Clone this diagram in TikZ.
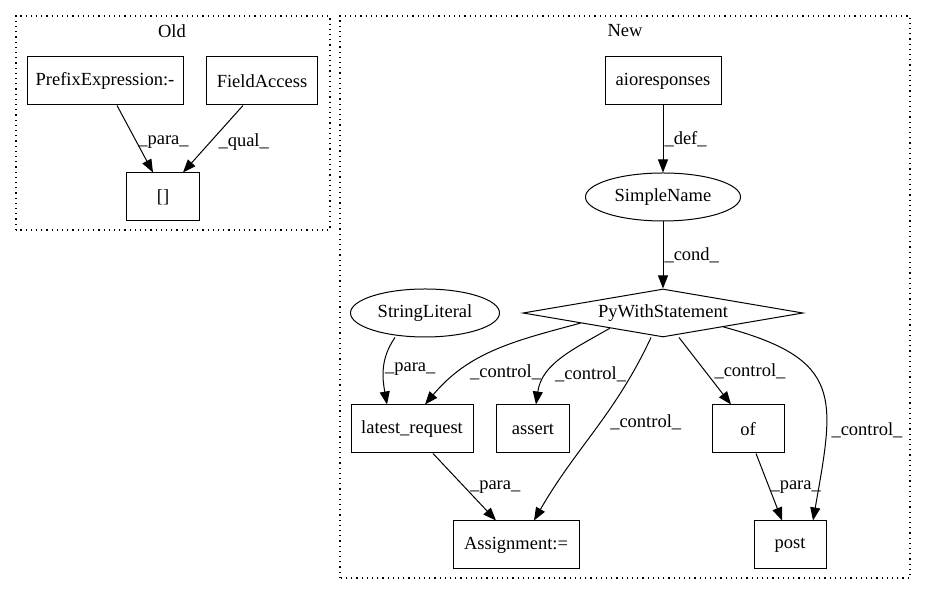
\documentclass[tikz,border=0pt]{standalone}
\usepackage{fontspec}
\setmainfont{Liberation Serif}
\usetikzlibrary{shapes.geometric, arrows.meta}
\newcommand{\graphfont}{\fontsize{18.5}{21}\selectfont}
\tikzstyle{block} = [draw, rectangle, minimum height=48pt, inner sep=0pt]
\tikzstyle{ellip} = [draw, ellipse, minimum height=48pt, inner sep=0pt]
\tikzstyle{decision} = [draw, diamond, aspect=5.8, minimum width=280pt, minimum height=48pt, inner sep=0pt]
\tikzstyle{edgelabel} = [inner sep=1pt, font=\graphfont]
\tikzstyle{cluster} = [draw, line width=1.1pt, dash pattern=on 1.2pt off 4pt]

\begin{document}
\begin{tikzpicture}[x=1pt, y=1pt, line width=1pt, >={Triangle[length=13pt, width=10pt]}, every node/.style={font=\graphfont}]
	\useasboundingbox (0,0) rectangle (927,596);
	% the two clusters
	\draw[cluster] (16,366) rectangle (330,580);
	\draw[cluster] (340,18) rectangle (910,580);
	\node (oldlabel) at (172,565) {Old};
	\node (newlabel) at (625,565) {New};

	% Old side
	\node [block, minimum width=156pt] (prefix) at (105,515) {PrefixExpression:-};
	\node [block, minimum width=111pt] (field) at (262,515) {FieldAccess};
	\node [block, minimum width=73pt] (brackets) at (163,399) {[]};
	\draw [->] ([xshift=12pt]prefix.south) -- node[edgelabel, right, pos=0.55] {\_para\_} ([xshift=-10pt]brackets.north);
	\draw [->] ([xshift=-19pt]field.south) -- node[edgelabel, right, pos=0.55, xshift=7pt] {\_qual\_} ([xshift=20pt]brackets.north);

	% New side
	\node [block, minimum width=116pt] (aio) at (663,515) {aioresponses};
	\node [ellip, minimum width=155pt] (simplename) at (663,399) {SimpleName};
	\node [decision] (with) at (663,283) {PyWithStatement};
	\node [ellip, minimum width=149pt] (string) at (425,283) {StringLiteral};
	\node [block, minimum width=122pt] (latest) at (412,167) {latest\_request};
	\node [block, minimum width=73pt] (assert) at (533,167) {assert};
	\node [block, minimum width=72pt] (of) at (748,167) {of};
	\node [block, minimum width=126pt] (assign) at (516,51) {Assignment:=};
	\node [block, minimum width=72pt] (post) at (790,51) {post};

	% edges
	\draw [->] (aio) -- node[edgelabel, right] {\_def\_} (simplename);
	\draw [->] (simplename) -- node[edgelabel, right] {\_cond\_} (with);
	\draw [->] ([xshift=-30pt]string.south) to[out=-125, in=100] node[edgelabel, right, pos=0.5] {\_para\_} ([xshift=-25pt]latest.north);
	\draw [->] (with.187) to[out=195, in=50] node[edgelabel, right, pos=0.75, xshift=10pt] {\_control\_} ([xshift=13pt]latest.north);
	\draw [->] (with.196) to[out=210, in=82] node[edgelabel, right, pos=0.7, xshift=6pt] {\_control\_} ([xshift=3pt]assert.north);
	\draw [->] ([xshift=-12pt]with.south) to[out=-115, in=60] node[edgelabel, right, pos=0.45, xshift=8pt] {\_control\_} ([xshift=18pt]assign.north);
	\draw [->] ([xshift=16pt]with.south) -- node[edgelabel, right, pos=0.5, xshift=8pt] {\_control\_} ([xshift=-17pt]of.north);
	\draw [->] (with.-13) to[out=-15, in=80, looseness=1.5] node[edgelabel, right, pos=0.7, xshift=4pt] {\_control\_} ([xshift=23pt]post.north);
	\draw [->] ([xshift=21pt]latest.south) -- node[edgelabel, right, pos=0.5, xshift=4pt] {\_para\_} ([xshift=-20pt]assign.north);
	\draw [->] ([xshift=8pt]of.south) -- node[edgelabel, right, pos=0.5] {\_para\_} ([xshift=-8pt]post.north);
\end{tikzpicture}
\end{document}
